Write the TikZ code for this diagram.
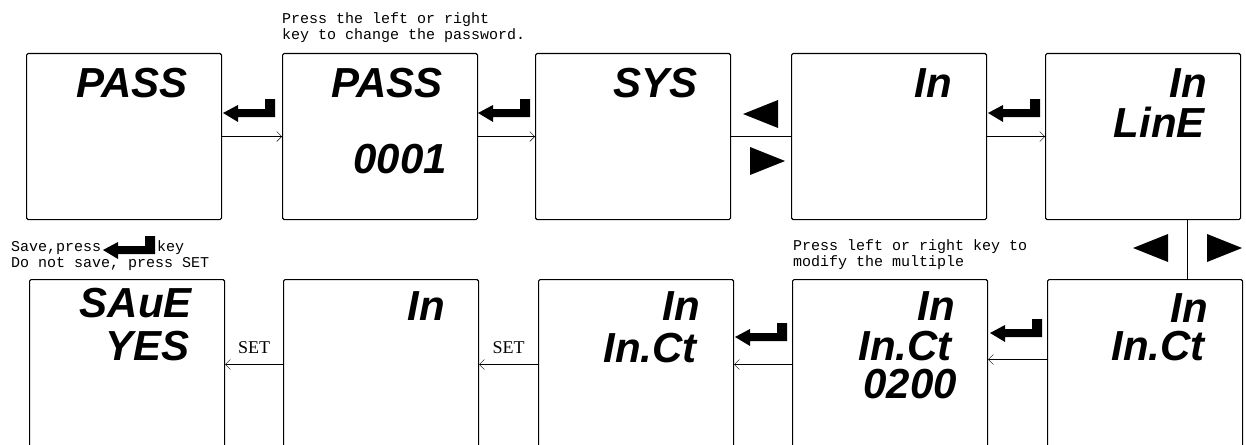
\documentclass[tikz,border=0pt]{standalone}
\usepackage{fontspec}
\setmainfont{Liberation Serif}
\newfontfamily\notefont{Liberation Mono}
\newfontfamily\lcdfont{Liberation Sans}
\usetikzlibrary{arrows.meta}

\tikzset{
	enterkey/.pic={\fill (0,0) -- (15,-8) -- (15,-4) -- (42,-4) -- (42,-14) -- (52,-14) -- (52,4) -- (15,4) -- (15,9) -- cycle;},
	leftkey/.pic={\fill (0,0) -- (35,-14) -- (35,14) -- cycle;},
	rightkey/.pic={\fill (0,0) -- (-35,-14) -- (-35,14) -- cycle;}
}

\begin{document}
\begin{tikzpicture}[x=1pt,y=-1pt,
				screen/.style={draw,line width=1.1pt,rounded corners=1.5pt,minimum width=195pt,minimum height=166pt,inner sep=0pt,anchor=north west},
				low/.style={screen,minimum height=170pt},
				lcd/.style={font=\lcdfont\bfseries\itshape\fontsize{42}{42}\selectfont,anchor=base east,inner sep=0pt},
				note/.style={font=\notefont\fontsize{15}{16}\selectfont,anchor=base west,inner sep=0pt},
				setlbl/.style={font=\fontsize{18}{18}\selectfont,anchor=base,inner sep=0pt,yshift=11pt},
				arr/.style={-{Straight Barb[length=5pt,width=10pt]}}]
\useasboundingbox (0,0) rectangle (1246,444);
% top row
\node[screen] (pass) at (26,53) {};
\node[screen] (pwd) at (282,53) {};
\node[screen] (sys) at (535,53) {};
\node[screen] (in) at (791,53) {};
\node[screen] (line) at (1045,53) {};
% bottom row
\node[low] (save) at (29,279) {};
\node[low] (inback) at (283,279) {};
\node[low] (inct) at (538,279) {};
\node[low] (mult) at (792,279) {};
\node[low] (ctsel) at (1047,279) {};

\node[lcd] (passtxt) at (188,97) {PASS};
\node[lcd] (pwdtxt) at (443,97) {PASS};
\node[lcd] (pwdval) at (447,173) {0001};
\node[lcd] (systxt) at (698,97) {SYS};
\node[lcd] (intxt) at (952,97) {In};
\node[lcd] (linetop) at (1207,97) {In};
\node[lcd] (linetxt) at (1205,137) {LinE};
\node[lcd] (savetxt) at (192,317) {SAuE};
\node[lcd] (yestxt) at (190,360) {YES};
\node[lcd] (backtxt) at (445,320) {In};
\node[lcd] (incttop) at (700,320) {In};
\node[lcd] (incttxt) at (697,362) {In.Ct};
\node[lcd] (multtop) at (955,320) {In};
\node[lcd] (multct) at (952,360) {In.Ct};
\node[lcd] (multval) at (957,398) {0200};
\node[lcd] (seltop) at (1208,322) {In};
\node[lcd] (selct) at (1205,360) {In.Ct};

\node[note] (pwdhint) at (282,24) {Press the left or right};
\node[note] (pwdhintb) at (282,40) {key to change the password.};
\node[note] (savehint) at (11,251) {Save,press};
\node[note] (savekey) at (157,251) {key};
\node[note] (savehintb) at (11,267) {Do not save, press SET};
\node[note] (multhint) at (793,250) {Press left or right key to};
\node[note] (multhintb) at (793,266) {modify the multiple};

% keys
\pic (ek1) at (223,113) {enterkey};
\pic (ek2) at (478,113) {enterkey};
\pic (ek3) at (988,113) {enterkey};
\pic (ek4) at (735,337) {enterkey};
\pic (ek5) at (990,333) {enterkey};
\pic (ek6) at (103,250) {enterkey};
\pic (lk1) at (743,114) {leftkey};
\pic (rk1) at (785,161) {rightkey};
\pic (lk2) at (1133,248) {leftkey};
\pic (rk2) at (1242,248) {rightkey};

\coordinate (turn) at (1187,248);
\draw[arr] (pass.east) -- (pwd.west);
\draw[arr] (pwd.east) -- (sys.west);
\draw (sys.east) -- (in.west);
\draw[arr] (in.east) -- (line.west);
\draw (line.south -| turn) -- (ctsel.north -| turn);
\draw[arr] ([yshift=5pt]ctsel.west) -- ([yshift=5pt]mult.east);
\draw[arr] (mult.west) -- (inct.east);
\draw[arr] (inct.west) -- node[setlbl] (set1) {SET} (inback.east);
\draw[arr] (inback.west) -- node[setlbl] (set2) {SET} (save.east);
\end{tikzpicture}
\end{document}
